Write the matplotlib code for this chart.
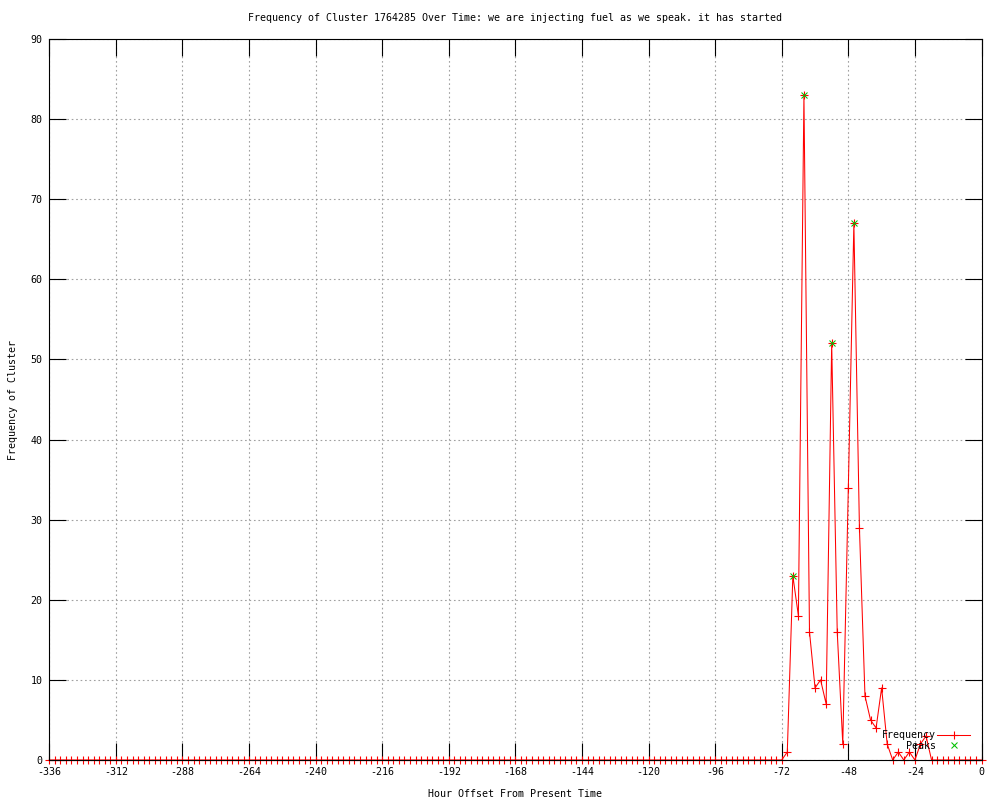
import matplotlib
matplotlib.use("Agg")
import numpy as np
import matplotlib.pyplot as plt

plt.rcParams['font.family'] = ['DejaVu Sans Mono']
plt.rcParams['font.size'] = 7.2
plt.rcParams['axes.titlesize'] = 7.2
plt.rcParams['axes.unicode_minus'] = False

# hours before now, one sample every 2 hours
hours = list(range(-336, 1, 2))
# flat zero until -72, then the burst
freq = [0] * 133 + [1, 23, 18, 83, 16, 9, 10, 7, 52, 16, 2, 34, 67, 29, 8, 5, 4, 9,
                    2, 0, 1, 0, 1, 0, 2, 3, 0, 0, 0, 0, 0, 0, 0, 0, 0, 0]

peak_hours = [-68, -64, -54, -46]
peak_vals = [23, 83, 52, 67]

x_ticks = list(range(-336, 1, 24))
y_ticks = list(range(0, 91, 10))

title = "Frequency of Cluster 1764285 Over Time: we are injecting fuel as we speak. it has started"

fig = plt.figure(figsize=(10, 8), dpi=100)
ax = fig.add_axes([0.0493, 0.05, 0.9322, 0.90125])

ax.plot(hours, freq, color='red', lw=0.75, marker='+', ms=6, mew=0.8,
        clip_on=False, label='Frequency', zorder=2)
ax.plot(peak_hours, peak_vals, ls='none', color='#00c000', marker='x', ms=5, mew=0.75,
        clip_on=False, label='Peaks', zorder=3)

ax.set_xlim(-336, 0)
ax.set_ylim(0, 90)
ax.set_xticks(x_ticks)
ax.set_yticks(y_ticks)
ax.grid(True, color='#a0a0a0', lw=0.8, ls=(0, (1.5, 2.5)))
ax.set_axisbelow(True)
for s in ax.spines.values():
    s.set_linewidth(0.8)
    s.set_zorder(4)
ax.tick_params(direction='in', length=12, width=0.8, top=True, right=True, pad=5)

ax.set_title(title, pad=13)
ax.set_xlabel("Hour Offset From Present Time", labelpad=9)
ax.set_ylabel("Frequency of Cluster", labelpad=9)

ax.legend(loc='lower right', bbox_to_anchor=(0.9877, 0.0125), frameon=False,
          markerfirst=False, borderpad=0, borderaxespad=0, handlelength=3.3,
          handletextpad=0.1, labelspacing=0.05)

fig.savefig("out.png", dpi=100)
